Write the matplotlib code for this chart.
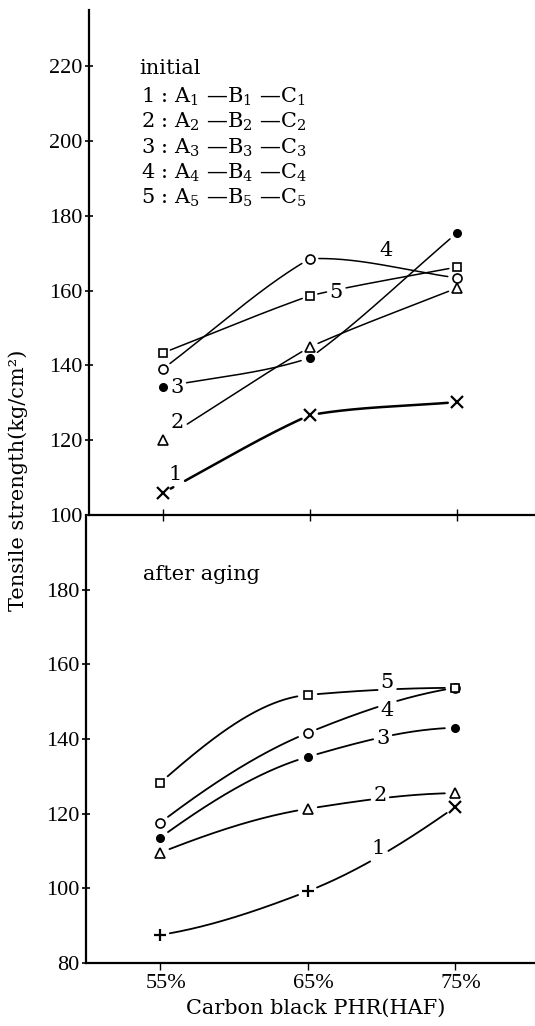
import numpy as np
import matplotlib
matplotlib.use("Agg")
import matplotlib.pyplot as plt
import matplotlib.transforms as mtransforms

# ---- data -------------------------------------------------------------
carbon_black = [55, 65, 75]
x_tick_labels = ["55%", "65%", "75%"]

# tensile strength, kg/cm^2 -- initial
initial_1 = [105.9, 126.7, 130.2]
initial_2 = [120.1, 144.9, 160.7]
initial_3 = [134.2, 142.0, 175.4]
initial_4 = [139.0, 168.5, 163.4]
initial_5 = [143.3, 158.6, 166.3]

# tensile strength, kg/cm^2 -- after aging
aged_1 = [87.5, 99.2, 121.8]
aged_2 = [109.5, 121.3, 125.5]
aged_3 = [113.5, 135.2, 143.0]
aged_4 = [117.5, 141.6, 153.7]
aged_5 = [128.2, 151.8, 153.7]

top_yticks = [100, 120, 140, 160, 180, 200, 220]
bot_yticks = [80, 100, 120, 140, 160, 180]

legend_lines = [
    "1 : A$_1$ —B$_1$ —C$_1$",
    "2 : A$_2$ —B$_2$ —C$_2$",
    "3 : A$_3$ —B$_3$ —C$_3$",
    "4 : A$_4$ —B$_4$ —C$_4$",
    "5 : A$_5$ —B$_5$ —C$_5$",
]

# ---- styling ----------------------------------------------------------
plt.rcParams["font.family"] = ["DejaVu Serif"]
plt.rcParams["mathtext.fontset"] = "dejavuserif"
TXT = dict(family="DejaVu Serif", fontsize=15, color="black")
NUM = dict(family="Liberation Serif", fontsize=16)

W, H = 535, 1026
fig = plt.figure(figsize=(W / 100, H / 100), dpi=100)
fig.patch.set_facecolor("white")

ax_top = fig.add_axes([89 / W, 1 - 515 / H, (W - 89) / W, 505 / H])
ax_bot = fig.add_axes([86 / W, 1 - 963 / H, (W - 86) / W, 448 / H])

ax_top.set_xlim(50, 80.3)
ax_top.set_ylim(100, 235)
ax_bot.set_xlim(50, 80.4)
ax_bot.set_ylim(80, 200)

for ax in (ax_top, ax_bot):
    ax.set_facecolor("none")
    ax.spines["right"].set_visible(False)
    ax.spines["top"].set_visible(False)
    ax.spines["left"].set_linewidth(1.6)
    ax.spines["bottom"].set_linewidth(1.6)
    ax.set_xticks(carbon_black)

ax_top.set_yticks(top_yticks)
ax_top.set_yticklabels([str(v) for v in top_yticks], **NUM)
ax_top.set_xticklabels([])
ax_top.tick_params(axis="y", direction="inout", length=6, width=1.2, pad=2)
ax_top.tick_params(axis="x", direction="inout", length=8, width=1.0)

ax_bot.set_yticks(bot_yticks)
ax_bot.set_yticklabels([str(v) for v in bot_yticks], **NUM)
ax_bot.set_xticklabels(x_tick_labels, **NUM)
ax_bot.tick_params(axis="y", direction="inout", length=6, width=1.2, pad=2)
ax_bot.tick_params(axis="x", direction="out", length=5, width=1.0, pad=3)
shift = mtransforms.ScaledTranslation(6 / 100, 0, fig.dpi_scale_trans)
for lab in ax_bot.get_xticklabels():
    lab.set_transform(lab.get_transform() + shift)


def pchip_slopes(h, d):
    n = len(d) + 1
    m = np.zeros(n)
    for i in range(1, n - 1):
        if d[i - 1] * d[i] > 0:
            w1 = 2 * h[i] + h[i - 1]
            w2 = h[i] + 2 * h[i - 1]
            m[i] = (w1 + w2) / (w1 / d[i - 1] + w2 / d[i])

    def end(h0, h1, d0, d1):
        mm = ((2 * h0 + h1) * d0 - h0 * d1) / (h0 + h1)
        if np.sign(mm) != np.sign(d0):
            return 0.0
        if np.sign(d0) != np.sign(d1) and abs(mm) > abs(3 * d0):
            return 3 * d0
        return mm

    m[0] = end(h[0], h[1], d[0], d[1])
    m[-1] = end(h[-1], h[-2], d[-1], d[-2])
    return m


def hermite(xk, yk, xs, mode):
    """Piecewise cubic Hermite curve through the points.

    'pchip' -> one smooth monotone curve through all points;
    'soft'  -> each interval drawn as its own gently bent stroke.
    """
    xk = np.asarray(xk, float)
    yk = np.asarray(yk, float)
    h = np.diff(xk)
    d = np.diff(yk) / h
    n = len(xk)
    if mode == "pchip":
        m = pchip_slopes(h, d)
        m_start, m_end = m[:-1], m[1:]
    else:
        cr = np.empty(n)
        cr[0], cr[-1] = d[0], d[-1]
        cr[1:-1] = 0.5 * (d[:-1] + d[1:])
        m_start = 0.6 * d + 0.4 * cr[:-1]
        m_end = 0.6 * d + 0.4 * cr[1:]
    idx = np.clip(np.searchsorted(xk, xs) - 1, 0, n - 2)
    t = (xs - xk[idx]) / h[idx]
    h00 = 2 * t**3 - 3 * t**2 + 1
    h10 = t**3 - 2 * t**2 + t
    h01 = -2 * t**3 + 3 * t**2
    h11 = t**3 - t**2
    return (h00 * yk[idx] + h10 * h[idx] * m_start[idx]
            + h01 * yk[idx + 1] + h11 * h[idx] * m_end[idx])


renderer = fig.canvas.get_renderer()


def draw_series(ax, ys, markers, label, label_xy, lw=1.1, gap=9, pad=3,
                mode="pchip"):
    txt = ax.text(label_xy[0], label_xy[1], label, ha="center",
                  va="center", **TXT)
    xx = np.linspace(carbon_black[0], carbon_black[-1], 800)
    yy = hermite(carbon_black, ys, xx, mode)
    pts = ax.transData.transform(np.column_stack([xx, yy]))
    keep = np.ones(len(xx), bool)
    mk = ax.transData.transform(np.column_stack([carbon_black, ys]))
    for px, py in mk:
        keep &= np.hypot(pts[:, 0] - px, pts[:, 1] - py) > gap
    bb = txt.get_window_extent(renderer)
    inside = ((pts[:, 0] > bb.x0 - pad) & (pts[:, 0] < bb.x1 + pad)
              & (pts[:, 1] > bb.y0 - pad) & (pts[:, 1] < bb.y1 + pad))
    keep &= ~inside
    ax.plot(xx, np.where(keep, yy, np.nan), color="black", lw=lw,
            solid_capstyle="round", zorder=2)
    for xv, yv, m in zip(carbon_black, ys, markers):
        style = dict(marker=m, color="black", linestyle="none", zorder=3)
        if m in ("o_open", "s", "^"):
            size = {"o_open": 6.5, "s": 6.0, "^": 7.5}[m]
            style.update(marker="o" if m == "o_open" else m,
                         markerfacecolor="white", markeredgecolor="black",
                         markersize=size, markeredgewidth=1.2)
        elif m == "o":
            style.update(markersize=5.5)
        else:
            style.update(markersize=8, markeredgewidth=1.6)
        ax.plot([xv], [yv], **style)


# initial
draw_series(ax_top, initial_1, ["x", "x", "x"], "1", (55.85, 110.8),
            lw=1.8, mode="soft")
draw_series(ax_top, initial_2, ["^", "^", "^"], "2", (56.0, 124.7),
            mode="soft")
draw_series(ax_top, initial_3, ["o", "o", "o"], "3", (55.95, 134.0),
            mode="soft")
draw_series(ax_top, initial_4, ["o_open"] * 3, "4", (70.2, 170.6),
            mode="soft")
draw_series(ax_top, initial_5, ["s", "s", "s"], "5", (66.8, 159.5),
            gap=8, mode="soft")

# after aging
draw_series(ax_bot, aged_1, ["+", "+", "x"], "1", (69.8, 110.6), lw=1.3,
            gap=10)
draw_series(ax_bot, aged_2, ["^", "^", "^"], "2", (69.9, 124.9), lw=1.3,
            gap=10)
draw_series(ax_bot, aged_3, ["o", "o", "o"], "3", (70.1, 140.2), lw=1.3,
            gap=10)
draw_series(ax_bot, aged_4, ["o_open"] * 3, "4", (70.4, 147.5), lw=1.3,
            gap=10)
draw_series(ax_bot, aged_5, ["s", "s", "s"], "5", (70.4, 155.0), lw=1.3,
            gap=10)

# panel captions and legend
fig.text(139 / W, 1 - 69 / H, "initial", ha="left", va="center", **TXT)
for i, line in enumerate(legend_lines):
    fig.text(141 / W, 1 - (97 + 25.2 * i) / H, line, ha="left",
             va="center", **TXT)
fig.text(143 / W, 1 - 575 / H, "after aging", ha="left", va="center", **TXT)

# axis titles
fig.text(18 / W, 1 - 480 / H, "Tensile strength(kg/cm²)", rotation=90,
         ha="center", va="center", **TXT)
fig.text(316 / W, 1 - 1008 / H, "Carbon black PHR(HAF)", ha="center",
         va="center", **TXT)

fig.savefig("out.png", dpi=100, facecolor="white")
